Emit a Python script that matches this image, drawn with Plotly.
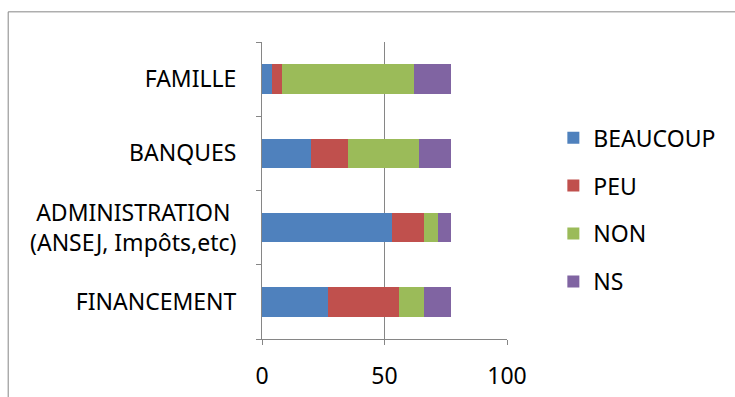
import plotly.graph_objects as go

categories = ["FINANCEMENT", "ADMINISTRATION <br>(ANSEJ, Impôts,etc)", "BANQUES", "FAMILLE"]
beaucoup = [27, 53, 20, 4]
peu = [29, 13, 15, 4]
non = [10, 6, 29, 54]
ns = [11, 5, 13, 15]

series = [
    ("BEAUCOUP", beaucoup, "#4F81BD"),
    ("PEU", peu, "#C0504D"),
    ("NON", non, "#9BBB59"),
    ("NS", ns, "#8064A2"),
]

FONT = "Noto Sans"
GRAY = "#868686"
FS = 23

fig = go.Figure()
for name, vals, col in series:
    fig.add_trace(go.Bar(
        y=categories, x=vals, name=name, orientation="h",
        marker=dict(color=col, line=dict(width=0)),
        legendgroup=name,
    ))

W, H = 735, 397
L, R, T, B = 262, 506.7, 41.7, 339
pw, ph = R - L, B - T

fig.update_layout(
    width=W, height=H,
    barmode="stack", bargap=0.6,
    margin=dict(l=L, r=W - R, t=T, b=H - B, pad=0, autoexpand=False),
    paper_bgcolor="white", plot_bgcolor="white",
    font=dict(family=FONT, size=FS, color="#000000"),
    showlegend=True,
    legend=dict(
        x=(553 - L) / pw, y=(B - 116) / ph, xanchor="left", yanchor="top",
        font=dict(family=FONT, size=FS, color="#000000"),
        tracegroupgap=15, traceorder="grouped",
        bgcolor="rgba(0,0,0,0)", borderwidth=0,
    ),
    xaxis=dict(
        range=[0, 100], tickvals=[0, 50, 100], ticks="outside", ticklen=5,
        tickcolor=GRAY, showline=True, linecolor=GRAY, linewidth=1,
        showgrid=True, gridcolor=GRAY, gridwidth=1, zeroline=False,
        tickfont=dict(family=FONT, size=FS), ticklabelstandoff=11,
        fixedrange=True, automargin=False,
    ),
    yaxis=dict(
        type="category", range=[-0.5, 3.5], ticks="outside", ticklen=5,
        tickson="boundaries", tickcolor=GRAY, showline=True, linecolor=GRAY,
        linewidth=1, showgrid=False, zeroline=False,
        tickfont=dict(family=FONT, size=FS), ticklabelstandoff=20,
        fixedrange=True, automargin=False,
    ),
)

# outer chart border (partially visible: left and top edges)
fig.add_shape(
    type="rect", xref="paper", yref="paper",
    x0=(8.5 - L) / pw, x1=(760 - L) / pw,
    y0=(B - 420) / ph, y1=(B - 11.5) / ph,
    line=dict(color=GRAY, width=1), fillcolor="rgba(0,0,0,0)", layer="below",
)

fig.write_html("out.html")
